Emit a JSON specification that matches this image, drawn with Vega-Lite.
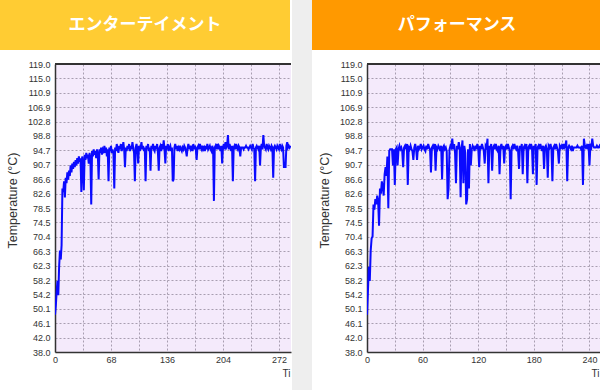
{
  "$schema": "https://vega.github.io/schema/vega-lite/v6.json",
  "background": "white",
  "padding": 0,
  "spacing": 0,
  "datasets": {
    "left": [
      {"t":0,"v":48.5},{"t":1,"v":51},{"t":2,"v":55},{"t":3,"v":58},{"t":4,"v":54},{"t":5,"v":62},{"t":6,"v":66.5},{"t":7,"v":64},{"t":8,"v":68},{"t":9,"v":84},
      {"t":10,"v":83},{"t":11,"v":86},{"t":12,"v":81.5},{"t":13,"v":87},{"t":14,"v":85.5},{"t":15,"v":88.5},{"t":16,"v":86.5},{"t":17,"v":89},{"t":18,"v":87.5},{"t":19,"v":90.5},
      {"t":20,"v":88.5},{"t":21,"v":91},{"t":22,"v":89.5},{"t":23,"v":91.5},{"t":24,"v":90},{"t":25,"v":92},{"t":26,"v":90.5},{"t":27,"v":92.5},{"t":28,"v":91},{"t":29,"v":93},
      {"t":30,"v":91.5},{"t":31,"v":92.5},{"t":32,"v":83},{"t":33,"v":93},{"t":34,"v":91.5},{"t":35,"v":83.5},{"t":36,"v":93.5},{"t":37,"v":92},{"t":38,"v":94},{"t":39,"v":92.5},
      {"t":40,"v":93.5},{"t":41,"v":91},{"t":42,"v":94},{"t":43,"v":92.5},{"t":44,"v":79.5},{"t":45,"v":94.5},{"t":46,"v":93},{"t":47,"v":95},{"t":48,"v":93.5},{"t":49,"v":94.5},
      {"t":50,"v":92.5},{"t":51,"v":95},{"t":52,"v":93.5},{"t":53,"v":86.5},{"t":54,"v":95},{"t":55,"v":94},{"t":56,"v":95.5},{"t":57,"v":93.5},{"t":58,"v":95},{"t":59,"v":94.5},
      {"t":60,"v":96},{"t":61,"v":94},{"t":62,"v":95.5},{"t":63,"v":93},{"t":64,"v":95},{"t":65,"v":86},{"t":66,"v":95.5},{"t":67,"v":94.5},{"t":68,"v":96},{"t":69,"v":94},
      {"t":70,"v":95},{"t":71,"v":93.5},{"t":72,"v":84},{"t":73,"v":95.5},{"t":74,"v":94.5},{"t":75,"v":96.5},{"t":76,"v":95},{"t":77,"v":94},{"t":78,"v":96},{"t":79,"v":95},
      {"t":80,"v":96.5},{"t":81,"v":94.5},{"t":82,"v":95.5},{"t":83,"v":97},{"t":84,"v":95},{"t":85,"v":90},{"t":86,"v":95.5},{"t":87,"v":94.5},{"t":88,"v":96},{"t":89,"v":95},
      {"t":90,"v":96.5},{"t":91,"v":94.5},{"t":92,"v":96},{"t":93,"v":95},{"t":94,"v":97},{"t":95,"v":95.5},{"t":96,"v":94},{"t":97,"v":86},{"t":98,"v":95.5},{"t":99,"v":96.5},
      {"t":100,"v":95},{"t":101,"v":91},{"t":102,"v":96},{"t":103,"v":94.5},{"t":104,"v":95.5},{"t":105,"v":97},{"t":106,"v":95},{"t":107,"v":96},{"t":108,"v":94.5},{"t":109,"v":95.5},
      {"t":110,"v":86},{"t":111,"v":96},{"t":112,"v":95},{"t":113,"v":96.5},{"t":114,"v":94.5},{"t":115,"v":95.5},{"t":116,"v":89},{"t":117,"v":96},{"t":118,"v":95},{"t":119,"v":96.5},
      {"t":120,"v":95},{"t":121,"v":94.5},{"t":122,"v":96},{"t":123,"v":95},{"t":124,"v":96.5},{"t":125,"v":94},{"t":126,"v":89},{"t":127,"v":95.5},{"t":128,"v":96},{"t":129,"v":94.5},
      {"t":130,"v":96.5},{"t":131,"v":95},{"t":132,"v":97.5},{"t":133,"v":95},{"t":134,"v":91},{"t":135,"v":96},{"t":136,"v":95},{"t":137,"v":96.5},{"t":138,"v":94.5},{"t":139,"v":95.5},
      {"t":140,"v":96},{"t":141,"v":94.5},{"t":142,"v":95.5},{"t":143,"v":86},{"t":144,"v":86.5},{"t":145,"v":95.5},{"t":146,"v":96.5},{"t":147,"v":95},{"t":148,"v":96},{"t":149,"v":94.5},
      {"t":150,"v":95.5},{"t":151,"v":95},{"t":152,"v":96},{"t":153,"v":95},{"t":154,"v":94.5},{"t":155,"v":95.5},{"t":156,"v":95},{"t":157,"v":96},{"t":158,"v":95.5},{"t":159,"v":94.5},
      {"t":160,"v":93},{"t":161,"v":95.5},{"t":162,"v":96.5},{"t":163,"v":95},{"t":164,"v":96},{"t":165,"v":95},{"t":166,"v":95.5},{"t":167,"v":94.5},{"t":168,"v":96.5},{"t":169,"v":95},
      {"t":170,"v":96},{"t":171,"v":95},{"t":172,"v":92},{"t":173,"v":95.5},{"t":174,"v":96},{"t":175,"v":95},{"t":176,"v":96.5},{"t":177,"v":95.5},{"t":178,"v":95},{"t":179,"v":96},
      {"t":180,"v":95},{"t":181,"v":95.5},{"t":182,"v":94.5},{"t":183,"v":96},{"t":184,"v":95},{"t":185,"v":96.5},{"t":186,"v":95},{"t":187,"v":95.5},{"t":188,"v":96},{"t":189,"v":95},
      {"t":190,"v":94.5},{"t":191,"v":96},{"t":192,"v":95},{"t":193,"v":80.5},{"t":194,"v":95.5},{"t":195,"v":96},{"t":196,"v":95},{"t":197,"v":96.5},{"t":198,"v":95},{"t":199,"v":96},
      {"t":200,"v":95.5},{"t":201,"v":94.5},{"t":202,"v":96},{"t":203,"v":91},{"t":204,"v":95.5},{"t":205,"v":96.5},{"t":206,"v":95},{"t":207,"v":97},{"t":208,"v":95.5},{"t":209,"v":96},
      {"t":210,"v":99},{"t":211,"v":95},{"t":212,"v":96.5},{"t":213,"v":95.5},{"t":214,"v":94.5},{"t":215,"v":96},{"t":216,"v":86},{"t":217,"v":95.5},{"t":218,"v":96},{"t":219,"v":95},
      {"t":220,"v":96.5},{"t":221,"v":95.5},{"t":222,"v":95},{"t":223,"v":96},{"t":224,"v":95.5},{"t":225,"v":93},{"t":226,"v":95.5},{"t":227,"v":95.5},{"t":228,"v":95.5},{"t":229,"v":95},
      {"t":230,"v":95.5},{"t":231,"v":95.5},{"t":232,"v":96},{"t":233,"v":95.5},{"t":234,"v":95.5},{"t":235,"v":95},{"t":236,"v":95.5},{"t":237,"v":96},{"t":238,"v":95.5},{"t":239,"v":95},
      {"t":240,"v":96.5},{"t":241,"v":95.5},{"t":242,"v":95},{"t":243,"v":86},{"t":244,"v":95.5},{"t":245,"v":96},{"t":246,"v":95.5},{"t":247,"v":95},{"t":248,"v":96},{"t":249,"v":90.5},
      {"t":250,"v":95.5},{"t":251,"v":96.5},{"t":252,"v":95},{"t":253,"v":99},{"t":254,"v":96},{"t":255,"v":95.5},{"t":256,"v":95},{"t":257,"v":96.5},{"t":258,"v":95.5},{"t":259,"v":95},
      {"t":260,"v":96},{"t":261,"v":95.5},{"t":262,"v":95},{"t":263,"v":96},{"t":264,"v":95.5},{"t":265,"v":87},{"t":266,"v":95.5},{"t":267,"v":96},{"t":268,"v":95.5},{"t":269,"v":95},
      {"t":270,"v":96},{"t":271,"v":95.5},{"t":272,"v":95},{"t":273,"v":96.5},{"t":274,"v":95.5},{"t":275,"v":95},{"t":276,"v":96},{"t":277,"v":95.5},{"t":278,"v":90},{"t":279,"v":90},
      {"t":280,"v":90},{"t":281,"v":96},{"t":282,"v":97},{"t":283,"v":95.5},{"t":284,"v":96},{"t":285,"v":95.5},{"t":286,"v":96}
    ],
    "right": [
      {"t":0,"v":48.5},{"t":1,"v":55},{"t":2,"v":62},{"t":3,"v":58},{"t":4,"v":66.5},{"t":5,"v":70},{"t":6,"v":70.5},{"t":7,"v":79.5},{"t":8,"v":78},{"t":9,"v":81},
      {"t":10,"v":79.5},{"t":11,"v":82},{"t":12,"v":80.5},{"t":13,"v":73.5},{"t":14,"v":84},{"t":15,"v":82.5},{"t":16,"v":86},{"t":17,"v":84.5},{"t":18,"v":82},{"t":19,"v":88},
      {"t":20,"v":90},{"t":21,"v":87.5},{"t":22,"v":93},{"t":23,"v":78.5},{"t":24,"v":94.5},{"t":25,"v":95},{"t":26,"v":95},{"t":27,"v":95},{"t":28,"v":90.5},{"t":29,"v":95},
      {"t":30,"v":85},{"t":31,"v":95},{"t":32,"v":95.5},{"t":33,"v":90.5},{"t":34,"v":95},{"t":35,"v":96},{"t":36,"v":95},{"t":37,"v":95.5},{"t":38,"v":94.5},{"t":39,"v":90},
      {"t":40,"v":95.5},{"t":41,"v":96},{"t":42,"v":95},{"t":43,"v":96.5},{"t":44,"v":85},{"t":45,"v":95.5},{"t":46,"v":95},{"t":47,"v":96},{"t":48,"v":95},{"t":49,"v":94.5},
      {"t":50,"v":92},{"t":51,"v":95.5},{"t":52,"v":96.5},{"t":53,"v":95},{"t":54,"v":92},{"t":55,"v":96},{"t":56,"v":95},{"t":57,"v":95.5},{"t":58,"v":96.5},{"t":59,"v":95},
      {"t":60,"v":95.5},{"t":61,"v":96},{"t":62,"v":95},{"t":63,"v":94.5},{"t":64,"v":96},{"t":65,"v":95},{"t":66,"v":96.5},{"t":67,"v":95.5},{"t":68,"v":95},{"t":69,"v":88.5},
      {"t":70,"v":95.5},{"t":71,"v":96},{"t":72,"v":95},{"t":73,"v":96.5},{"t":74,"v":89},{"t":75,"v":95.5},{"t":76,"v":95},{"t":77,"v":96},{"t":78,"v":95.5},{"t":79,"v":94.5},
      {"t":80,"v":96},{"t":81,"v":86.5},{"t":82,"v":95.5},{"t":83,"v":96},{"t":84,"v":95},{"t":85,"v":95.5},{"t":86,"v":94.5},{"t":87,"v":81},{"t":88,"v":84},{"t":89,"v":95},
      {"t":90,"v":96},{"t":91,"v":95.5},{"t":92,"v":98},{"t":93,"v":95},{"t":94,"v":96.5},{"t":95,"v":94},{"t":96,"v":85.5},{"t":97,"v":96},{"t":98,"v":95},{"t":99,"v":97},
      {"t":100,"v":95.5},{"t":101,"v":81.5},{"t":102,"v":95},{"t":103,"v":97.5},{"t":104,"v":85.5},{"t":105,"v":96},{"t":106,"v":94},{"t":107,"v":79.5},{"t":108,"v":81},{"t":109,"v":95},
      {"t":110,"v":84},{"t":111,"v":96.5},{"t":112,"v":90.5},{"t":113,"v":95},{"t":114,"v":96},{"t":115,"v":95.5},{"t":116,"v":94.5},{"t":117,"v":96},{"t":118,"v":95},{"t":119,"v":96.5},
      {"t":120,"v":95.5},{"t":121,"v":90},{"t":122,"v":96},{"t":123,"v":95},{"t":124,"v":96.5},{"t":125,"v":95.5},{"t":126,"v":94.5},{"t":127,"v":91},{"t":128,"v":96},{"t":129,"v":95.5},
      {"t":130,"v":98},{"t":131,"v":85.5},{"t":132,"v":96},{"t":133,"v":95},{"t":134,"v":96.5},{"t":135,"v":89},{"t":136,"v":95.5},{"t":137,"v":96},{"t":138,"v":95},{"t":139,"v":96.5},
      {"t":140,"v":95},{"t":141,"v":94.5},{"t":142,"v":96},{"t":143,"v":88},{"t":144,"v":95.5},{"t":145,"v":96.5},{"t":146,"v":95},{"t":147,"v":96},{"t":148,"v":91},{"t":149,"v":95.5},
      {"t":150,"v":96},{"t":151,"v":95},{"t":152,"v":96.5},{"t":153,"v":95.5},{"t":154,"v":94.5},{"t":155,"v":81},{"t":156,"v":95.5},{"t":157,"v":96},{"t":158,"v":95},{"t":159,"v":96.5},
      {"t":160,"v":95.5},{"t":161,"v":95},{"t":162,"v":96},{"t":163,"v":94.5},{"t":164,"v":89.5},{"t":165,"v":96},{"t":166,"v":95},{"t":167,"v":96.5},{"t":168,"v":88},{"t":169,"v":95.5},
      {"t":170,"v":96},{"t":171,"v":95},{"t":172,"v":96.5},{"t":173,"v":85.5},{"t":174,"v":95.5},{"t":175,"v":96},{"t":176,"v":95},{"t":177,"v":96.5},{"t":178,"v":95.5},{"t":179,"v":88},
      {"t":180,"v":96},{"t":181,"v":95},{"t":182,"v":96.5},{"t":183,"v":85},{"t":184,"v":95.5},{"t":185,"v":96},{"t":186,"v":95},{"t":187,"v":96.5},{"t":188,"v":95.5},{"t":189,"v":94.5},
      {"t":190,"v":96},{"t":191,"v":89.5},{"t":192,"v":95.5},{"t":193,"v":96},{"t":194,"v":95},{"t":195,"v":87},{"t":196,"v":96},{"t":197,"v":95.5},{"t":198,"v":96.5},{"t":199,"v":95},
      {"t":200,"v":86},{"t":201,"v":95.5},{"t":202,"v":96},{"t":203,"v":95},{"t":204,"v":96.5},{"t":205,"v":95.5},{"t":206,"v":94.5},{"t":207,"v":91},{"t":208,"v":96},{"t":209,"v":95.5},
      {"t":210,"v":96},{"t":211,"v":95},{"t":212,"v":96.5},{"t":213,"v":95.5},{"t":214,"v":96},{"t":215,"v":97.5},{"t":216,"v":86},{"t":217,"v":95.5},{"t":218,"v":96},{"t":219,"v":95.5},
      {"t":220,"v":95},{"t":221,"v":96},{"t":222,"v":94.5},{"t":223,"v":95.5},{"t":224,"v":95.5},{"t":225,"v":95.5},{"t":226,"v":95.5},{"t":227,"v":96},{"t":228,"v":95.5},{"t":229,"v":95.5},
      {"t":230,"v":95.5},{"t":231,"v":95},{"t":232,"v":96},{"t":233,"v":85},{"t":234,"v":98},{"t":235,"v":96},{"t":236,"v":95.5},{"t":237,"v":96},{"t":238,"v":95},{"t":239,"v":96.5},
      {"t":240,"v":90.5},{"t":241,"v":96},{"t":242,"v":95.5},{"t":243,"v":98},{"t":244,"v":96},{"t":245,"v":95.5},{"t":246,"v":95.5},{"t":247,"v":95.5},{"t":248,"v":96},{"t":249,"v":95.5},
      {"t":250,"v":95.5},{"t":251,"v":96},{"t":252,"v":95.5},{"t":253,"v":95.5},{"t":254,"v":95.5}
    ],
    "hdrL": [{"label": "エンターテイメント"}],
    "hdrR": [{"label": "パフォーマンス"}],
    "none": []
  },
  "hconcat": [
    {
      "spacing": 10,
      "vconcat": [
        {
          "width": 290, "height": 50,
          "view": {"fill": "#ffcc33", "stroke": null},
          "data": {"name": "hdrL"},
          "mark": {"type": "text", "font": "Noto Sans CJK JP", "fontWeight": "bold", "fontSize": 17, "color": "white"},
          "encoding": {"text": {"field": "label"}}
        },
        {
          "spacing": 0,
          "hconcat": [
            {"width": 6, "height": 10, "view": {"stroke": null}, "data": {"name": "none"}, "mark": "point"},
            {
              "width": 236, "height": 288,
              "view": {"fill": "#f4eafb", "stroke": null},
              "data": {"name": "left"},
              "layer": [
                {
                  "mark": {"type": "line", "color": "#0a0aff", "strokeWidth": 2, "clip": true},
                  "encoding": {
                    "x": {"field": "t", "type": "quantitative", "scale": {"domain": [0, 286.6], "nice": false, "zero": false},
                      "axis": {"values": [0,34,68,102,136,170,204,238,272], "tickCount": 40, "labelExpr": "datum.value % 68 == 0 ? datum.label : ''", "labelOverlap": false, "labelFlush": false, "labelPadding": 3, "title": "Ti", "titleX": 227, "titleY": 21, "titleAlign": "left", "titleBaseline": "middle", "titleFontSize": 10}},
                    "y": {"field": "v", "type": "quantitative", "scale": {"domain": [38, 119], "nice": false, "zero": false},
                      "axis": {"values": [38,42.04,46.1,50.14,54.2,58.24,62.3,66.34,70.4,74.46,78.5,82.56,86.6,90.66,94.7,98.76,102.8,106.86,110.9,114.96,119], "tickCount": 40, "format": ".1f", "labelOverlap": false, "labelPadding": 5, "minExtent": 30, "maxExtent": 30, "title": "Temperature (°C)", "titleFontSize": 12.5, "titlePadding": 6, "titleY": 136}}
                  }
                },
                {
                  "mark": {"type": "rule", "color": "#333", "strokeWidth": 1.5},
                  "encoding": {"y": {"datum": 119}}
                }
              ]
            }
          ]
        }
      ]
    },
    {"width": 20, "height": 390, "view": {"fill": "#eeeeee", "stroke": null}, "data": {"name": "none"}, "mark": "point"},
    {
      "spacing": 10,
      "vconcat": [
        {
          "width": 290, "height": 50,
          "view": {"fill": "#ff9900", "stroke": null},
          "data": {"name": "hdrR"},
          "mark": {"type": "text", "font": "Noto Sans CJK JP", "fontWeight": "bold", "fontSize": 17, "color": "white"},
          "encoding": {"text": {"field": "label"}}
        },
        {
          "spacing": 0,
          "hconcat": [
            {"width": 6, "height": 10, "view": {"stroke": null}, "data": {"name": "none"}, "mark": "point"},
            {
              "width": 236, "height": 288,
              "view": {"fill": "#f4eafb", "stroke": null},
              "data": {"name": "right"},
              "layer": [
                {
                  "mark": {"type": "line", "color": "#0a0aff", "strokeWidth": 2, "clip": true},
                  "encoding": {
                    "x": {"field": "t", "type": "quantitative", "scale": {"domain": [0, 254.6], "nice": false, "zero": false},
                      "axis": {"values": [0,30,60,90,120,150,180,210,240], "tickCount": 40, "labelExpr": "datum.value % 60 == 0 ? datum.label : ''", "labelOverlap": false, "labelFlush": false, "labelPadding": 3, "title": "Ti", "titleX": 224, "titleY": 21, "titleAlign": "left", "titleBaseline": "middle", "titleFontSize": 10}},
                    "y": {"field": "v", "type": "quantitative", "scale": {"domain": [38, 119], "nice": false, "zero": false},
                      "axis": {"values": [38,42.04,46.1,50.14,54.2,58.24,62.3,66.34,70.4,74.46,78.5,82.56,86.6,90.66,94.7,98.76,102.8,106.86,110.9,114.96,119], "tickCount": 40, "format": ".1f", "labelOverlap": false, "labelPadding": 5, "minExtent": 30, "maxExtent": 30, "title": "Temperature (°C)", "titleFontSize": 12.5, "titlePadding": 6, "titleY": 136}}
                  }
                },
                {
                  "mark": {"type": "rule", "color": "#333", "strokeWidth": 1.5},
                  "encoding": {"y": {"datum": 119}}
                }
              ]
            }
          ]
        }
      ]
    }
  ],
  "config": {
    "font": "Liberation Sans",
    "view": {"stroke": null},
    "axis": {
      "labelFont": "Liberation Sans", "labelFontSize": 9, "labelColor": "#333",
      "titleFont": "Liberation Sans", "titleFontSize": 11, "titleFontWeight": "normal", "titleColor": "#333",
      "domainColor": "#333", "domainWidth": 1.5,
      "grid": true, "gridColor": "#a89eb0", "gridDash": [2, 2], "gridWidth": 1,
      "ticks": false, "tickSize": 0
    }
  }
}
